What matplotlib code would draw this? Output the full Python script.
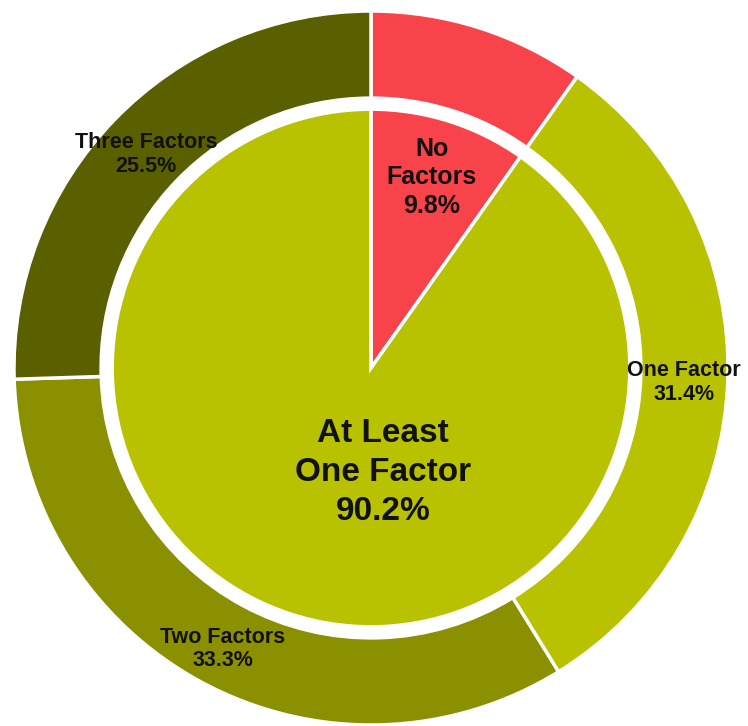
import numpy as np
import matplotlib
matplotlib.use("Agg")
import matplotlib.pyplot as plt

# Data
outer_labels = ["No\nFactors", "One Factor", "Two Factors", "Three Factors"]
outer_values = [9.8, 31.4, 33.3, 25.5]
outer_colors = ["#F9434B", "#B9C200", "#8B9000", "#5A5F00"]

inner_labels = ["No\nFactors", "At Least\nOne Factor"]
inner_values = [9.8, 90.2]
inner_colors = ["#F9434B", "#B9C200"]

W, H, DPI = 748, 726, 100
cx, cy, R = 371, 368, 357   # pixel geometry of the chart

fig = plt.figure(figsize=(W / DPI, H / DPI), dpi=DPI)
ax = fig.add_axes([0, 0, 1, 1])
ax.set_aspect("equal")
ax.axis("off")

ring_inner = 0.756
pie_r = 0.725

outer_w, _ = ax.pie(outer_values, colors=outer_colors, startangle=90, counterclock=False,
                    radius=1.0, wedgeprops=dict(width=1.0 - ring_inner, edgecolor="white", linewidth=2.5))
inner_w, _ = ax.pie(inner_values, colors=inner_colors, startangle=90, counterclock=False,
                    radius=pie_r, wedgeprops=dict(edgecolor="white", linewidth=2.5))
ax.set_xlim(-cx / R, (W - cx) / R)
ax.set_ylim(-(H - cy) / R, cy / R)

font = ["Liberation Sans", "DejaVu Sans"]
txt = "#111111"

# outer ring labels (skip No Factors, which is labelled on the inner pie)
ring_mid = (1.0 + ring_inner) / 2
dy = -0.013
for w, lab, v in zip(outer_w, outer_labels, outer_values):
    if lab.startswith("No"):
        continue
    ang = np.deg2rad((w.theta1 + w.theta2) / 2)
    ax.text(ring_mid * np.cos(ang), ring_mid * np.sin(ang) + dy, f"{lab}\n{v}%",
            ha="center", va="center", fontsize=15.5, fontweight="bold",
            family=font, color=txt, linespacing=1.15)

# inner labels
w0 = inner_w[0]
ang = np.deg2rad((w0.theta1 + w0.theta2) / 2)
ax.text(0.56 * np.cos(ang), 0.56 * np.sin(ang), f"{inner_labels[0]}\n{inner_values[0]}%",
        ha="center", va="center", fontsize=18, fontweight="bold",
        family=font, color=txt, linespacing=1.25)
ax.text(0.034, -0.293, f"{inner_labels[1]}\n{inner_values[1]}%",
        ha="center", va="center", fontsize=24, fontweight="bold",
        family=font, color=txt, linespacing=1.33)

fig.savefig("out.png", dpi=DPI, facecolor="white")
